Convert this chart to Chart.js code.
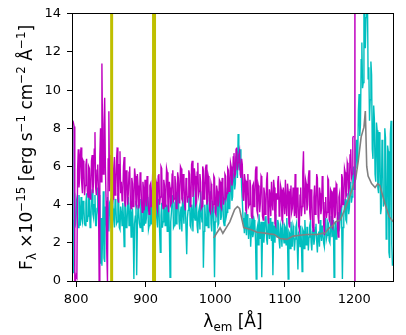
<!DOCTYPE html>
<html><head><meta charset="utf-8">
<script src="https://cdn.jsdelivr.net/npm/chart.js@4"></script>
<style>html,body{margin:0;padding:0;background:#fff}#wrap{width:406px;height:335px}</style>
</head><body><div id="wrap"><canvas id="c" width="406" height="335"></canvas></div>
<script>
// wavelength grid of the two observed spectra (Angstrom)
const waveStart = 795;
const waveStep = 1;

// observed spectrum 1 (cyan), 795..1255 A, one value per Angstrom
const cyanFlux = [
  8.4, 0.4, 3.2, 2.8, 3.0, 4.3, 4.1, 2.9, 2.8, 4.5, 3.6, 2.9, 4.4, 3.3, 3.1, 4.2, 3.9, 3.0, 2.9, 4.1,
  4.6, 3.1, 3.4, 4.7, 4.2, 2.8, 3.0, 4.4, 4.8, 3.5, 3.3, 4.0, 4.5, 2.9, 2.9, 3.8, 4.9, 3.6, 3.2, 4.5,
  0.9, 3.3, 0.8, 2.5, 4.7, 1.2, 1.0, 3.9, 3.5, 2.7, 4.4, 3.6, 2.6, 4.1, 4.2, 2.9, 3.0, 4.5, 3.8, 3.2,
  2.8, 4.3, 4.0, 3.0, 3.1, 4.6, 4.3, 2.8, 2.7, 3.9, 3.6, 2.9, 4.1, 3.3, 1.8, 4.2, 3.9, 2.8, 2.9, 4.0,
  4.4, 2.9, 3.2, 4.1, 2.3, 3.5, 3.8, 2.7, 0.1, 3.0, 3.4, 4.2, 0.3, 2.8, 4.0, 3.6, 3.0, 2.8, 4.3, 3.2,
  2.6, 4.1, 3.7, 2.9, 4.5, 3.0, 3.3, 4.4, 4.2, 2.7, 2.9, 3.8, 4.6, 3.0, 3.5, 4.4, 5.2, 3.1, 3.8, 2.9,
  4.4, 3.6, 2.8, 4.3, 3.9, 2.6, 1.5, 3.4, 4.1, 2.8, 3.1, 4.5, 4.6, 2.9, 3.4, 4.0, 2.6, 3.9, 4.0, 2.7,
  0.2, 3.1, 3.6, 4.4, 4.5, 2.8, 2.9, 4.1, 4.2, 3.0, 3.3, 4.5, 4.8, 3.1, 2.7, 3.6, 3.9, 2.6, 4.4, 3.7,
  3.0, 4.5, 4.1, 2.7, 1.4, 3.3, 3.7, 4.2, 4.6, 2.9, 2.8, 4.0, 3.5, 2.6, 4.9, 3.4, 3.2, 4.4, 4.3, 2.9,
  2.5, 3.6, 3.8, 2.7, 4.7, 3.5, 3.1, 4.2, 0.7, 2.6, 4.0, 3.3, 2.9, 4.5, 4.4, 2.8, 3.3, 4.1, 4.7, 3.0,
  2.6, 4.2, 3.9, 2.8, 0.2, 3.1, 3.5, 4.3, 4.5, 2.9, 3.0, 4.6, 4.8, 3.2, 3.4, 4.4, 4.2, 3.1, 2.9, 4.3,
  4.9, 3.4, 3.6, 4.6, 5.2, 3.8, 4.0, 5.1, 5.5, 4.2, 4.4, 5.6, 6.2, 4.8, 5.1, 6.5, 6.8, 5.4, 7.7, 6.1,
  5.8, 6.9, 6.4, 4.9, 4.2, 3.3, 3.1, 2.5, 3.6, 2.9, 2.4, 3.5, 3.2, 2.2, 2.8, 3.3, 1.8, 2.6, 3.4, 2.3,
  2.5, 3.2, 3.0, 2.1, 0.1, 2.7, 2.9, 1.9, 3.5, 2.8, 2.2, 3.1, 0.2, 2.4, 3.1, 2.0, 2.6, 3.3, 3.4, 2.2,
  1.9, 3.0, 2.8, 2.2, 3.3, 2.5, 2.1, 3.1, 0.3, 2.4, 2.9, 2.0, 3.5, 2.6, 2.3, 3.2, 3.0, 2.1, 1.7, 2.9,
  2.7, 1.8, 3.2, 2.4, 2.0, 2.9, 2.8, 1.9, 3.3, 2.2, 0.1, 2.6, 2.5, 1.7, 3.1, 2.3, 1.8, 2.9, 2.7, 1.6,
  2.2, 2.8, 3.0, 1.9, 0.6, 2.5, 2.4, 1.8, 2.9, 2.1, 0.5, 2.7, 2.6, 1.7, 3.2, 2.4, 1.9, 2.8, 2.8, 1.6,
  2.3, 2.9, 3.1, 2.0, 1.6, 2.6, 2.7, 1.9, 2.2, 2.8, 3.0, 2.1, 1.5, 2.4, 2.6, 1.8, 3.2, 2.5, 2.1, 2.9,
  2.9, 2.0, 1.8, 2.7, 3.3, 2.2, 2.4, 3.1, 3.0, 2.1, 2.0, 2.8, 3.4, 2.3, 2.6, 3.2, 0.2, 2.5, 3.1, 2.2,
  2.4, 3.3, 3.6, 2.6, 2.8, 3.7, 3.9, 2.9, 0.1, 2.8, 3.3, 4.0, 4.3, 3.2, 3.1, 4.2, 4.6, 3.5, 3.8, 4.9,
  5.2, 4.1, 4.4, 5.6, 6.0, 4.8, 5.1, 6.8, 7.4, 5.9, 6.3, 8.9, 9.8, 7.6, 8.2, 11.6, 12.5, 10.1, 10.4, 14.5,
  15.0, 12.2, 13.8, 15.0, 15.0, 10.6, 11.2, 8.4, 9.5, 11.5, 10.8, 6.9, 6.4, 9.2, 8.5, 5.6, 5.2, 8.3, 7.9, 4.9,
  4.6, 7.8, 7.2, 3.5, 3.8, 7.4, 6.9, 3.9, 4.1, 8.0, 7.5, 2.2, 2.6, 7.1, 6.8, 1.5, 1.2, 7.7, 8.4, 1.9,
  0.8
];

// observed spectrum 2 (magenta), 795..1199 A, one value per Angstrom
const magentaFlux = [
  8.4, 8.3, 8.1, 0.0, 0.0, 0.3, 0.2, 5.8, 6.9, 4.9, 5.4, 6.6, 7.0, 5.1, 4.6, 6.3, 6.2, 4.5, 5.0, 6.1,
  6.4, 4.7, 4.4, 6.0, 5.9, 4.3, 4.8, 6.3, 6.6, 4.6, 5.2, 6.9, 7.8, 4.9, 4.5, 5.8, 6.1, 4.8, 0.0, 6.5,
  8.0, 5.2, 11.4, 7.3, 5.6, 8.2, 9.6, 6.0, 4.2, 1.5, 0.0, 6.4, 8.9, 4.7, 5.3, 6.6, 6.2, 4.0, 4.3, 5.9,
  6.5, 4.5, 4.9, 6.3, 7.0, 4.3, 4.1, 6.1, 6.8, 4.6, 5.2, 4.2, 4.4, 6.0, 6.5, 4.1, 3.9, 5.8, 5.6, 4.0,
  4.6, 5.7, 6.0, 4.1, 3.8, 5.4, 5.1, 3.9, 4.2, 5.9, 5.5, 4.0, 3.9, 5.6, 5.0, 3.8, 4.0, 5.7, 5.4, 4.1,
  3.6, 5.2, 4.8, 3.7, 5.3, 4.4, 3.9, 5.5, 4.6, 3.8, 3.5, 5.0, 5.1, 3.9, 4.3, 5.6, 5.5, 3.8, 4.0, 5.4,
  5.2, 3.9, 3.7, 5.5, 5.6, 4.0, 4.4, 6.0, 5.9, 4.1, 3.8, 5.3, 5.0, 3.9, 4.5, 5.9, 5.7, 4.0, 3.6, 5.2,
  4.9, 4.0, 4.1, 5.6, 5.8, 4.2, 4.3, 5.5, 5.1, 3.8, 3.9, 5.7, 5.4, 4.1, 4.6, 6.0, 5.9, 4.3, 4.2, 5.6,
  5.3, 4.0, 3.7, 5.4, 5.0, 4.1, 4.4, 5.8, 5.6, 3.9, 4.0, 6.1, 6.3, 4.4, 4.8, 5.9, 5.5, 4.0, 4.1, 5.7,
  6.2, 4.5, 4.7, 5.6, 5.2, 3.8, 3.9, 6.0, 5.8, 4.3, 4.5, 5.9, 6.1, 4.0, 4.2, 5.5, 5.3, 3.7, 3.6, 5.1,
  4.9, 3.8, 4.0, 5.5, 5.4, 3.6, 3.5, 5.0, 4.7, 3.9, 4.1, 5.3, 5.2, 3.9, 3.8, 5.4, 5.0, 4.0, 4.3, 5.6,
  5.5, 4.4, 4.6, 5.9, 5.8, 4.7, 4.9, 6.2, 6.0, 5.0, 5.3, 6.5, 6.7, 5.5, 5.6, 6.9, 7.0, 5.8, 6.2, 6.6,
  6.8, 5.6, 5.4, 6.4, 6.1, 4.4, 4.2, 5.6, 5.3, 3.7, 3.6, 5.2, 5.6, 3.9, 4.0, 5.3, 4.9, 3.4, 3.3, 5.0,
  5.1, 3.9, 4.4, 5.8, 6.0, 3.7, 3.5, 5.0, 4.8, 3.6, 4.1, 5.5, 5.4, 3.4, 3.2, 4.9, 4.6, 3.5, 3.9, 5.3,
  5.7, 3.3, 3.0, 4.8, 4.5, 3.4, 5.2, 4.1, 3.7, 5.3, 4.9, 3.0, 2.9, 4.6, 4.3, 5.2, 5.5, 3.4, 3.6, 5.0,
  4.8, 3.2, 3.1, 4.9, 4.4, 3.5, 5.3, 4.0, 3.4, 5.1, 4.7, 3.0, 2.8, 4.8, 5.0, 3.6, 3.8, 4.9, 4.2, 3.4,
  5.6, 3.6, 3.3, 4.9, 4.6, 2.9, 2.7, 4.5, 4.9, 3.4, 3.9, 5.7, 6.8, 4.1, 3.5, 5.3, 5.1, 3.7, 4.0, 5.4,
  5.8, 3.6, 3.2, 4.8, 4.5, 2.9, 2.6, 4.4, 5.0, 3.5, 3.7, 5.6, 5.4, 3.4, 3.0, 4.9, 4.6, 3.5, 3.8, 5.5,
  5.2, 3.0, 2.4, 4.1, 4.4, 3.3, 3.6, 5.4, 5.3, 3.2, 3.1, 4.8, 4.7, 2.9, 2.8, 4.6, 4.9, 3.3, 3.5, 5.1,
  5.0, 2.8, 2.3, 4.4, 4.6, 3.7, 3.9, 5.6, 5.4, 4.0, 4.2, 5.9, 5.7, 4.4, 4.5, 6.2, 6.0, 4.7, 4.9, 6.6,
  6.9, 5.4, 5.6, 7.5, 7.6
];

// smooth template (grey)
const templateWave = [998, 1002, 1007, 1011, 1016, 1021, 1028, 1032, 1035, 1038, 1041, 1046, 1052, 1060, 1069, 1078, 1085, 1093, 1103, 1112, 1122, 1132, 1146, 1158, 1164, 1168, 1173, 1180, 1187, 1194, 1202, 1206, 1210, 1214, 1216, 1218, 1220, 1225, 1230, 1234, 1237, 1240, 1245, 1250, 1256];
const templateFlux = [2.26, 2.5, 2.78, 2.5, 2.8, 3.1, 3.75, 3.9, 3.8, 3.3, 2.8, 2.75, 2.68, 2.55, 2.52, 2.47, 2.44, 2.23, 2.18, 2.35, 2.4, 2.44, 2.44, 2.52, 2.78, 2.85, 3.1, 3.2, 3.8, 4.48, 5.33, 6.35, 7.55, 8.06, 8.9, 6.0, 5.5, 5.1, 4.9, 5.1, 5.0, 4.6, 3.97, 3.4, 3.1];

// vertical marker lines (Angstrom)
const markerWave = [851, 912, 1201];

const xTickValues = [800, 900, 1000, 1100, 1200];
const yTickValues = [0, 2, 4, 6, 8, 10, 12, 14];

const COLORS = { cyan: '#00bfbf', magenta: '#bf00bf', yellow: '#bfbf00', grey: '#808080' };
const markerStyle = [
  { color: COLORS.yellow, width: 3 },
  { color: COLORS.yellow, width: 4 },
  { color: COLORS.magenta, width: 1.5 }
];
const FONT = '"DejaVu Sans", "Liberation Sans", sans-serif';

const toPoints = (arr) => arr.map((v, i) => ({ x: waveStart + i * waveStep, y: v }));
const templatePoints = templateWave.map((w, i) => ({ x: w, y: templateFlux[i] }));

const yTitle = [
  { t: 'F' }, { t: 'λ', k: 'sub' }, { t: ' ×10' }, { t: '−15', k: 'sup' },
  { t: ' [erg s' }, { t: '−1', k: 'sup' }, { t: ' cm' }, { t: '−2', k: 'sup' },
  { t: ' Å' }, { t: '−1', k: 'sup' }, { t: ']' }
];
const xTitle = [ { t: 'λ' }, { t: 'em', k: 'sub' }, { t: ' [Å]' } ];

function segFont(s, size) { return (s.k ? size * 0.7 : size) + 'px ' + FONT; }
function richWidth(ctx, segs, size) {
  let w = 0;
  for (const s of segs) { ctx.font = segFont(s, size); w += ctx.measureText(s.t).width; }
  return w;
}
function drawRich(ctx, segs, size, x0, y0) {
  let x = x0;
  for (const s of segs) {
    ctx.font = segFont(s, size);
    const dy = s.k === 'sup' ? -size * 0.4 : (s.k === 'sub' ? size * 0.25 : 0);
    ctx.fillText(s.t, x, y0 + dy);
    x += ctx.measureText(s.t).width;
  }
}

const decorPlugin = {
  id: 'decor',
  afterDatasetsDraw(chart) {
    const { ctx, chartArea: a, scales } = chart;
    ctx.save();
    ctx.beginPath();
    ctx.rect(a.left, a.top, a.right - a.left, a.bottom - a.top);
    ctx.clip();
    markerWave.forEach((w, i) => {
      const px = scales.x.getPixelForValue(w);
      ctx.strokeStyle = markerStyle[i].color;
      ctx.lineWidth = markerStyle[i].width;
      ctx.beginPath();
      ctx.moveTo(px, a.top);
      ctx.lineTo(px, a.bottom);
      ctx.stroke();
    });
    ctx.restore();
  },
  afterDraw(chart) {
    const { ctx, chartArea: a } = chart;
    ctx.save();
    ctx.strokeStyle = '#000';
    ctx.lineWidth = 1;
    ctx.strokeRect(Math.round(a.left) - 0.5, Math.round(a.top) - 0.5, Math.round(a.right - a.left) + 1, Math.round(a.bottom - a.top) + 1);
    ctx.fillStyle = '#000';
    ctx.textBaseline = 'alphabetic';
    ctx.textAlign = 'left';
    const size = 17;
    // x title
    const wx = richWidth(ctx, xTitle, size);
    drawRich(ctx, xTitle, size, (a.left + a.right) / 2 - wx / 2, 327);
    // y title (rotated)
    const wy = richWidth(ctx, yTitle, size);
    ctx.translate(32, (a.top + a.bottom) / 2);
    ctx.rotate(-Math.PI / 2);
    drawRich(ctx, yTitle, size, -wy / 2, 0);
    ctx.restore();
  }
};

new Chart(document.getElementById('c'), {
  type: 'line',
  data: {
    datasets: [
      { label: 'template', data: templatePoints, borderColor: COLORS.grey, borderWidth: 1.6, pointRadius: 0, tension: 0, clip: 0 },
      { label: 'spectrum 2', data: toPoints(magentaFlux), borderColor: COLORS.magenta, borderWidth: 1.4, pointRadius: 0, tension: 0, clip: 0 },
      { label: 'spectrum 1', data: toPoints(cyanFlux), borderColor: COLORS.cyan, borderWidth: 1.4, pointRadius: 0, tension: 0, clip: 0 }
    ]
  },
  options: {
    responsive: false,
    animation: false,
    devicePixelRatio: 1,
    parsing: false,
    layout: { padding: { top: 7, right: 13, left: 0, bottom: 0 } },
    plugins: { legend: { display: false }, tooltip: { enabled: false } },
    scales: {
      x: {
        type: 'linear', min: 795.4, max: 1255.8,
        afterBuildTicks: (s) => { s.ticks = xTickValues.map(v => ({ value: v })); },
        afterFit: (s) => { s.height = 54; },
        ticks: { color: '#000', font: { family: FONT, size: 13 }, padding: 5, maxRotation: 0, autoSkip: false, callback: (v) => String(v) },
        grid: { display: true, drawOnChartArea: false, drawTicks: true, tickLength: 6, tickColor: '#000', tickWidth: 1 },
        border: { display: false }
      },
      y: {
        type: 'linear', min: 0, max: 14,
        afterBuildTicks: (s) => { s.ticks = yTickValues.map(v => ({ value: v })); },
        afterFit: (s) => { s.width = 73; },
        ticks: { color: '#000', font: { family: FONT, size: 13 }, padding: 6, autoSkip: false, callback: (v) => String(v) },
        grid: { display: true, drawOnChartArea: false, drawTicks: true, tickLength: 6, tickColor: '#000', tickWidth: 1 },
        border: { display: false }
      }
    }
  },
  plugins: [decorPlugin]
});
</script>
</body></html>
